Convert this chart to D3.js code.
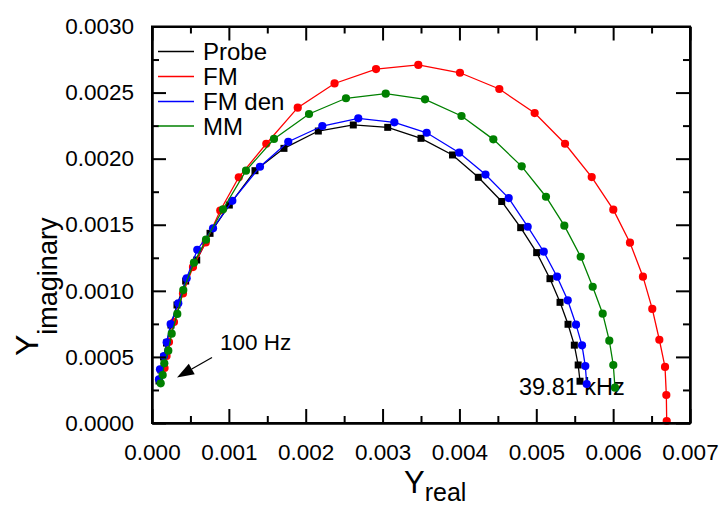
<!DOCTYPE html>
<html>
<head>
<meta charset="utf-8">
<script src="https://cdn.jsdelivr.net/npm/d3@7/dist/d3.min.js"></script>
<style>
  html, body { margin: 0; padding: 0; background: #fff; }
  svg { display: block; font-family: "Liberation Sans", Arial, sans-serif; }
</style>
</head>
<body>
<svg id="chart" width="720" height="507"></svg>
<script>
// ---- data (Y real, Y imaginary), from 100 Hz to 39.81 kHz ----
const seriesNames = ["Probe", "FM", "FM den", "MM"];

const probeReal = [0.000091,0.000117,0.000150,0.000189,0.000247,0.000325,0.000438,0.000582,0.000755,0.001006,0.001340,
  0.001717,0.002164,0.002619,0.003067,0.003500,0.003910,0.004246,0.004550,0.004797,0.005005,0.005178,0.005309,0.005413,0.005495,0.005545,0.005569];
const probeImag = [0.000318,0.000401,0.000499,0.000605,0.000741,0.000893,0.001074,0.001233,0.001435,0.001649,0.001909,
  0.002078,0.002209,0.002255,0.002237,0.002154,0.002028,0.001859,0.001676,0.001478,0.001289,0.001092,0.000913,0.000747,0.000589,0.000439,0.000316];

const fmReal = [0.000163,0.000189,0.000221,0.000286,0.000403,0.000533,0.000699,0.000888,0.001129,0.001487,0.001896,
  0.002375,0.002915,0.003465,0.004007,0.004519,0.004979,0.005374,0.005721,0.006002,0.006219,0.006388,0.006509,0.006601,0.006675,0.006692,0.006697];
const fmImag = [0.000416,0.000507,0.000613,0.000764,0.000980,0.001180,0.001366,0.001608,0.001859,0.002113,0.002386,
  0.002569,0.002678,0.002709,0.002650,0.002527,0.002345,0.002113,0.001861,0.001614,0.001364,0.001107,0.000863,0.000630,0.000424,0.000212,0.000015];

const fmDenReal = [0.000091,0.000104,0.000156,0.000191,0.000243,0.000342,0.000451,0.000589,0.000794,0.001045,
  0.001405,0.001773,0.002216,0.002684,0.003153,0.003574,0.003998,0.004339,0.004641,0.004888,0.005097,0.005270,0.005409,0.005517,0.005595,0.005638,0.005656];
const fmDenImag = [0.000331,0.000406,0.000507,0.000611,0.000749,0.000906,0.001095,0.001311,0.001473,0.001681,
  0.001939,0.002128,0.002247,0.002305,0.002275,0.002196,0.002045,0.001880,0.001702,0.001485,0.001296,0.001107,0.000928,0.000744,0.000588,0.000431,0.000295];

const mmReal = [0.000113,0.000139,0.000160,0.000212,0.000256,0.000329,0.000407,0.000546,0.000703,0.000924,0.001223,
  0.001587,0.002043,0.002524,0.003041,0.003552,0.004027,0.004441,0.004810,0.005126,0.005365,0.005578,0.005734,0.005864,0.005950,0.006002,0.006024];
const mmImag = [0.000300,0.000363,0.000452,0.000547,0.000676,0.000825,0.001006,0.001213,0.001387,0.001617,0.001909,
  0.002149,0.002338,0.002457,0.002492,0.002449,0.002323,0.002146,0.001942,0.001712,0.001493,0.001258,0.001031,0.000827,0.000623,0.000439,0.000267];

const xMajorTicks = [0, 0.001, 0.002, 0.003, 0.004, 0.005, 0.006, 0.007];
const xMinorTicks = [0.0005, 0.0015, 0.0025, 0.0035, 0.0045, 0.0055, 0.0065];
const yMajorTicks = [0, 0.0005, 0.0010, 0.0015, 0.0020, 0.0025, 0.0030];
const yMinorTicks = [0.00025, 0.00075, 0.00125, 0.00175, 0.00225, 0.00275];

const lowFreqLabel = "100 Hz";
const highFreqLabel = "39.81 kHz";

// ---- layout ----
const svg = d3.select("#chart");
const L = 152, R = 690, T = 26.5, B = 423;
const x = d3.scaleLinear().domain([0, 0.007]).range([L, R]);
const y = d3.scaleLinear().domain([0, 0.003]).range([B, T]);

const colors = { "Probe": "#000000", "FM": "#ff0000", "FM den": "#0000ff", "MM": "#008000" };
const series = [
  { name: "Probe", re: probeReal, im: probeImag, shape: "square" },
  { name: "FM", re: fmReal, im: fmImag, shape: "circle" },
  { name: "FM den", re: fmDenReal, im: fmDenImag, shape: "circle" },
  { name: "MM", re: mmReal, im: mmImag, shape: "circle" }
];

// annotation text (behind data)
svg.append("text").attr("x", 519).attr("y", 395)
  .attr("font-size", 23.5).attr("fill", "#000").text(highFreqLabel);
svg.append("text").attr("x", 220).attr("y", 349.5)
  .attr("font-size", 22.5).attr("fill", "#000").text(lowFreqLabel);

// arrow pointing to the 100 Hz end
(function () {
  const x1 = 212, y1 = 357.5, tx = 177, ty = 377.5;
  const dx = tx - x1, dy = ty - y1, len = Math.hypot(dx, dy);
  const ux = dx / len, uy = dy / len, hl = 17, hw = 6;
  const bx = tx - ux * hl, by = ty - uy * hl;
  svg.append("line").attr("x1", x1).attr("y1", y1).attr("x2", bx).attr("y2", by)
    .attr("stroke", "#000").attr("stroke-width", 1.2);
  svg.append("path")
    .attr("d", `M${tx},${ty} L${bx - uy * hw},${by + ux * hw} L${bx + uy * hw},${by - ux * hw} Z`)
    .attr("fill", "#000");
})();

// data
const line = d3.line().x(d => x(d[0])).y(d => y(d[1]));
series.forEach(s => {
  const pts = s.re.map((v, i) => [v, s.im[i]]);
  const g = svg.append("g");
  g.append("path").attr("d", line(pts)).attr("fill", "none")
    .attr("stroke", colors[s.name]).attr("stroke-width", 1.3);
  if (s.shape === "square") {
    g.selectAll("rect").data(pts).join("rect")
      .attr("x", d => x(d[0]) - 3.5).attr("y", d => y(d[1]) - 3.5)
      .attr("width", 7).attr("height", 7).attr("fill", colors[s.name]);
  } else {
    g.selectAll("circle").data(pts).join("circle")
      .attr("cx", d => x(d[0])).attr("cy", d => y(d[1])).attr("r", 4.1)
      .attr("fill", colors[s.name]);
  }
});

// axes
const fmtX = d3.format(".3f"), fmtY = d3.format(".4f");
function styleAxis(g) {
  g.selectAll("path.domain").attr("stroke", "#000").attr("stroke-width", 2);
  g.selectAll(".tick line").attr("stroke", "#000").attr("stroke-width", 2);
  g.selectAll(".tick text").attr("font-size", 22.5).attr("fill", "#000")
    .attr("font-family", "'Liberation Sans', Arial, sans-serif");
}
svg.append("g").attr("transform", `translate(0,${B})`)
  .call(d3.axisBottom(x).tickValues(xMajorTicks).tickFormat(fmtX).tickSize(-14).tickSizeOuter(0).tickPadding(21))
  .call(styleAxis);
svg.append("g").attr("transform", `translate(0,${B})`)
  .call(d3.axisBottom(x).tickValues(xMinorTicks).tickFormat("").tickSize(-7).tickSizeOuter(0))
  .call(styleAxis);
svg.append("g").attr("transform", `translate(0,${T})`)
  .call(d3.axisTop(x).tickValues(xMajorTicks).tickFormat("").tickSize(-14).tickSizeOuter(0))
  .call(styleAxis);
svg.append("g").attr("transform", `translate(0,${T})`)
  .call(d3.axisTop(x).tickValues(xMinorTicks).tickFormat("").tickSize(-7).tickSizeOuter(0))
  .call(styleAxis);
svg.append("g").attr("transform", `translate(${L},0)`)
  .call(d3.axisLeft(y).tickValues(yMajorTicks).tickFormat(fmtY).tickSize(-14).tickSizeOuter(0).tickPadding(18))
  .call(styleAxis);
svg.append("g").attr("transform", `translate(${L},0)`)
  .call(d3.axisLeft(y).tickValues(yMinorTicks).tickFormat("").tickSize(-7).tickSizeOuter(0))
  .call(styleAxis);
svg.append("g").attr("transform", `translate(${R},0)`)
  .call(d3.axisRight(y).tickValues(yMajorTicks).tickFormat("").tickSize(-14).tickSizeOuter(0))
  .call(styleAxis);
svg.append("g").attr("transform", `translate(${R},0)`)
  .call(d3.axisRight(y).tickValues(yMinorTicks).tickFormat("").tickSize(-7).tickSizeOuter(0))
  .call(styleAxis);
svg.append("rect").attr("x", L).attr("y", T).attr("width", R - L).attr("height", B - T)
  .attr("fill", "none").attr("stroke", "#000").attr("stroke-width", 2);

// legend
const legendRows = [51.5, 76.5, 101.5, 126];
series.forEach((s, i) => {
  const ly = legendRows[i];
  svg.append("line").attr("x1", 158).attr("x2", 194).attr("y1", ly).attr("y2", ly)
    .attr("stroke", colors[s.name]).attr("stroke-width", 1.5);
  svg.append("text").attr("x", 203).attr("y", ly + 8.5).attr("font-size", 24)
    .attr("fill", "#000").text(s.name);
});

// axis titles
const xt = svg.append("text").attr("x", 404).attr("y", 493).attr("fill", "#000");
xt.append("tspan").attr("font-size", 31).text("Y");
xt.append("tspan").attr("font-size", 25).attr("dy", 7.5).text("real");

const yt = svg.append("text").attr("transform", "translate(38,356) rotate(-90)").attr("fill", "#000");
yt.append("tspan").attr("font-size", 32).text("Y");
yt.append("tspan").attr("font-size", 27).attr("dy", 19).text("imaginary");
</script>
</body>
</html>
